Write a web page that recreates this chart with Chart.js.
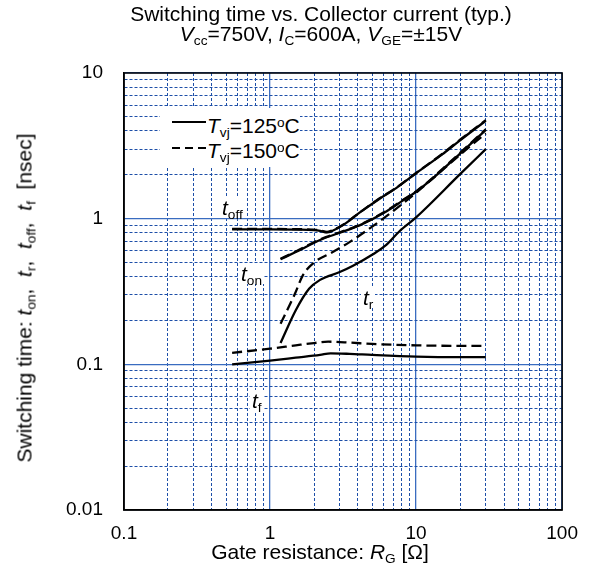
<!DOCTYPE html>
<html>
<head>
<meta charset="utf-8">
<script src="https://cdn.jsdelivr.net/npm/chart.js@4.4.0/dist/chart.umd.min.js"></script>
<style>
  body { margin: 0; background: #fff; }
  #wrap { position: relative; width: 590px; height: 583px; font-family: 'Liberation Sans', Arial, sans-serif; color: #000; }
  #chart { position: absolute; left: 0; top: 0; }
  .txt { position: absolute; white-space: nowrap; line-height: 1; font-size: 21px; }
  .sb { font-size: 65%; position: relative; top: 0.3em; }
  .sp { font-size: 65%; position: relative; top: -0.45em; }
  .lbl { background: #fff; padding: 0 2px; }
  #legend { position: absolute; left: 160px; top: 108px; width: 140px; height: 59px; background: #fff; }
  .sample { position: absolute; left: 12px; width: 34px; height: 2px; }
</style>
</head>
<body>
<div id="wrap">
  <canvas id="chart" width="590" height="583"></canvas>

  <div class="txt" style="left:321px; top:3px; transform:translateX(-50%);">Switching time vs. Collector current (typ.)</div>
  <div class="txt" style="left:321px; top:23px; transform:translateX(-50%);"><i>V</i><span class="sb">cc</span>=750V, <i>I</i><span class="sb">C</span>=600A, <i>V</i><span class="sb">GE</span>=±15V</div>

  <div class="txt" style="left:320px; top:541px; transform:translateX(-50%);">Gate resistance: <i>R</i><span class="sb">G</span> [Ω]</div>
  <div class="txt" style="left:24px; top:298px; transform:translate(-50%,-50%) rotate(-90deg);">Switching time: <i>t</i><span class="sb">on</span>,&nbsp; <i>t</i><span class="sb">r</span>,&nbsp; <i>t</i><span class="sb">off</span>,&nbsp; <i>t</i><span class="sb">f</span>&nbsp; [nsec]</div>

  <div id="legend">
    <div class="sample" style="top:13px; background:#000;"></div>
    <div class="txt" style="left:47px; top:7px;"><i>T</i><span class="sb">vj</span>=125<span class="sp">o</span>C</div>
    <div class="sample" style="top:39px; background:repeating-linear-gradient(90deg,#000 0 8px,transparent 8px 13px);"></div>
    <div class="txt" style="left:47px; top:32px;"><i>T</i><span class="sb">vj</span>=150<span class="sp">o</span>C</div>
  </div>

  <div class="txt lbl" style="left:220px; top:197px;"><i>t</i><span class="sb">off</span></div>
  <div class="txt lbl" style="left:239px; top:263px;"><i>t</i><span class="sb">on</span></div>
  <div class="txt lbl" style="left:361px; top:287px;"><i>t</i><span class="sb">r</span></div>
  <div class="txt lbl" style="left:250px; top:390px;"><i>t</i><span class="sb">f</span></div>
</div>

<script>
// gate resistance [ohm] / switching time [nsec]
const rgToff = [0.55, 1, 1.5, 2, 2.2, 2.45, 2.7, 3.2, 4.1, 5.5, 7.3, 10, 15, 20, 30];
const toff125 = [0.845, 0.845, 0.842, 0.835, 0.825, 0.805, 0.83, 0.91, 1.1, 1.35, 1.62, 2.05, 2.75, 3.45, 4.7];
const toff150 = [0.85, 0.85, 0.847, 0.84, 0.83, 0.81, 0.835, 0.915, 1.1, 1.36, 1.63, 2.06, 2.77, 3.48, 4.75];

const rgTon = [1.18, 1.5, 2.2, 3, 4.1, 6.25, 8, 10, 12.3, 20, 30];
const ton125 = [0.526, 0.59, 0.714, 0.8, 0.9, 1.12, 1.32, 1.53, 1.8, 2.8, 4.06];
const ton150 = [0.53, 0.595, 0.72, 0.805, 0.905, 1.13, 1.33, 1.54, 1.82, 2.83, 4.1];

const rgTr125 = [1.18, 1.5, 1.85, 2.2, 3, 3.7, 5, 6.25, 7.7, 10, 20, 30];
const tr125 = [0.14, 0.235, 0.33, 0.38, 0.43, 0.475, 0.565, 0.66, 0.82, 1.02, 2.02, 3.0];
const rgTr150 = [1.18, 1.47, 1.68, 2.0, 2.6, 3.5, 4.6, 6.5, 8.5, 10.5, 20, 30];
const tr150 = [0.19, 0.30, 0.41, 0.50, 0.58, 0.69, 0.83, 1.07, 1.32, 1.57, 2.75, 3.85];

const rgTf125 = [0.55, 1, 1.5, 2.2, 2.6, 3.5, 5, 10, 20, 30];
const tf125 = [0.10, 0.106, 0.111, 0.116, 0.119, 0.118, 0.116, 0.113, 0.112, 0.112];
const rgTf150 = [0.55, 1, 1.5, 2, 2.5, 3.5, 5, 10, 20, 30];
const tf150 = [0.12, 0.128, 0.135, 0.14, 0.143, 0.141, 0.138, 0.135, 0.134, 0.134];

const xTickVals = [0.1, 0.2, 0.3, 0.4, 0.5, 0.6, 0.7, 0.8, 0.9, 1, 2, 3, 4, 5, 6, 7, 8, 9, 10, 20, 30, 40, 50, 60, 70, 80, 90, 100];
const yTickVals = [0.01, 0.02, 0.03, 0.04, 0.05, 0.06, 0.07, 0.08, 0.09, 0.1, 0.2, 0.3, 0.4, 0.5, 0.6, 0.7, 0.8, 0.9, 1, 2, 3, 4, 5, 6, 7, 8, 9, 10];

const isDecade = v => Math.abs(Math.log10(v) - Math.round(Math.log10(v))) < 1e-9;
const pts = (xs, ys) => xs.map((x, i) => ({ x: x, y: ys[i] }));

function curve(xs, ys, dashed) {
  return {
    data: pts(xs, ys),
    borderColor: '#000',
    borderWidth: 2.3,
    borderDash: dashed ? [10, 5] : [],
    pointRadius: 0,
    fill: false,
    cubicInterpolationMode: 'monotone'
  };
}

const frame = {
  id: 'frame',
  afterDraw(chart) {
    const a = chart.chartArea, ctx = chart.ctx;
    ctx.save();
    ctx.strokeStyle = '#000';
    ctx.lineWidth = 1.5;
    ctx.strokeRect(a.left, a.top, a.right - a.left, a.bottom - a.top);
    ctx.restore();
  }
};

const gridOpts = {
  color: c => isDecade(c.tick.value) ? '#3a6cc0' : '#1d4fa8',
  lineWidth: c => isDecade(c.tick.value) ? 1.3 : 1,
  drawTicks: false
};
const borderOpts = {
  color: '#000',
  width: 1.5,
  dash: c => (c.tick && !isDecade(c.tick.value)) ? [3, 2] : []
};

Chart.defaults.font.family = "'Liberation Sans', Arial, sans-serif";
Chart.defaults.color = '#000';

new Chart(document.getElementById('chart'), {
  type: 'line',
  data: {
    datasets: [
      curve(rgToff, toff125, false),
      curve(rgToff, toff150, true),
      curve(rgTon, ton125, false),
      curve(rgTon, ton150, true),
      curve(rgTr125, tr125, false),
      curve(rgTr150, tr150, true),
      curve(rgTf125, tf125, false),
      curve(rgTf150, tf150, true)
    ]
  },
  options: {
    responsive: false,
    animation: false,
    layout: { padding: { top: 73, right: 27, bottom: 0, left: 0 } },
    plugins: { legend: { display: false }, tooltip: { enabled: false }, title: { display: false } },
    scales: {
      x: {
        type: 'logarithmic',
        min: 0.1,
        max: 100,
        afterBuildTicks: s => { s.ticks = xTickVals.map(v => ({ value: v })); },
        afterFit: s => { s.height = 73; },
        grid: gridOpts,
        border: borderOpts,
        ticks: {
          autoSkip: false,
          maxRotation: 0,
          padding: 12,
          font: { size: 19 },
          callback: v => isDecade(v) ? String(v) : ''
        }
      },
      y: {
        type: 'logarithmic',
        min: 0.01,
        max: 10,
        afterBuildTicks: s => { s.ticks = yTickVals.map(v => ({ value: v })); },
        afterFit: s => { s.width = 124; },
        grid: gridOpts,
        border: borderOpts,
        ticks: {
          autoSkip: false,
          padding: 21,
          font: { size: 19 },
          callback: v => isDecade(v) ? String(v) : ''
        }
      }
    }
  },
  plugins: [frame]
});
</script>
</body>
</html>
